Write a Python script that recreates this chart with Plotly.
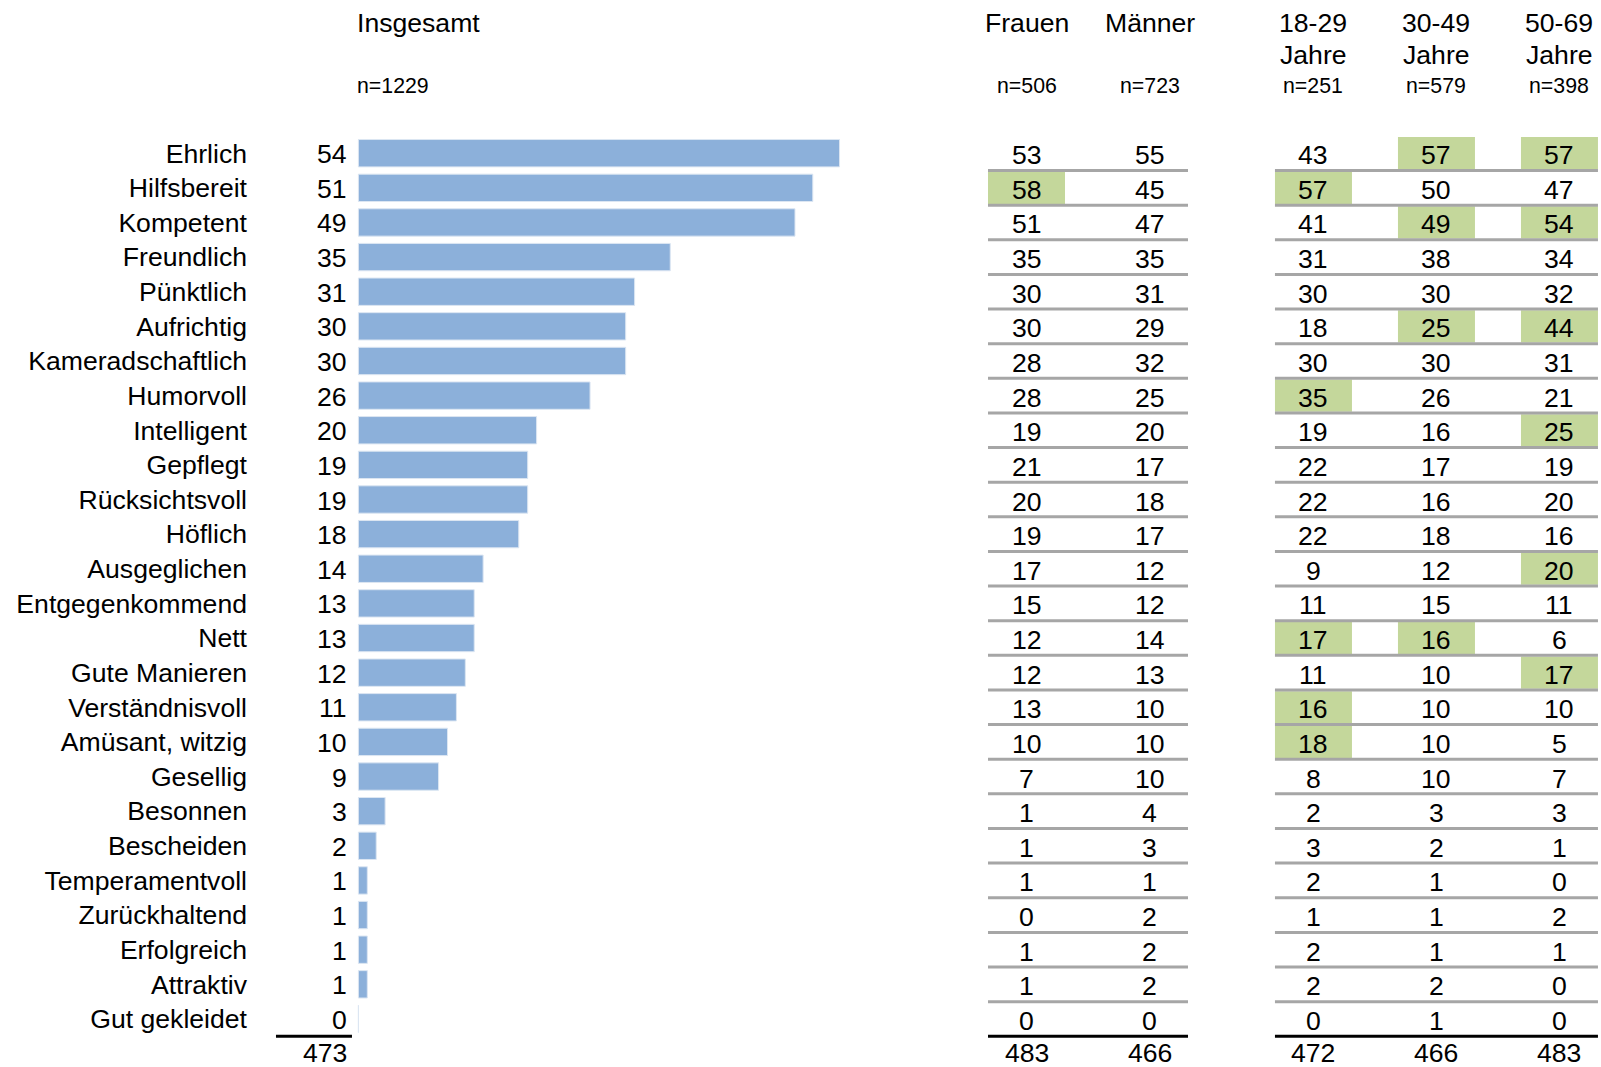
import plotly.graph_objects as go

# ---------------- data ----------------
labels = ["Ehrlich", "Hilfsbereit", "Kompetent", "Freundlich", "Pünktlich", "Aufrichtig",
          "Kameradschaftlich", "Humorvoll", "Intelligent", "Gepflegt", "Rücksichtsvoll",
          "Höflich", "Ausgeglichen", "Entgegenkommend", "Nett", "Gute Manieren",
          "Verständnisvoll", "Amüsant, witzig", "Gesellig", "Besonnen", "Bescheiden",
          "Temperamentvoll", "Zurückhaltend", "Erfolgreich", "Attraktiv", "Gut gekleidet"]
insgesamt = [54, 51, 49, 35, 31, 30, 30, 26, 20, 19, 19, 18, 14, 13, 13, 12, 11, 10, 9, 3, 2, 1, 1, 1, 1, 0]
frauen = [53, 58, 51, 35, 30, 30, 28, 28, 19, 21, 20, 19, 17, 15, 12, 12, 13, 10, 7, 1, 1, 1, 0, 1, 1, 0]
maenner = [55, 45, 47, 35, 31, 29, 32, 25, 20, 17, 18, 17, 12, 12, 14, 13, 10, 10, 10, 4, 3, 1, 2, 2, 2, 0]
age_18_29 = [43, 57, 41, 31, 30, 18, 30, 35, 19, 22, 22, 22, 9, 11, 17, 11, 16, 18, 8, 2, 3, 2, 1, 2, 2, 0]
age_30_49 = [57, 50, 49, 38, 30, 25, 30, 26, 16, 17, 16, 18, 12, 15, 16, 10, 10, 10, 10, 3, 2, 1, 1, 1, 2, 1]
age_50_69 = [57, 47, 54, 34, 32, 44, 31, 21, 25, 19, 20, 16, 20, 11, 6, 17, 10, 5, 7, 3, 1, 0, 2, 1, 0, 0]

# highlighted (significantly higher) cells per column
hl_frauen = [0, 1] + [0] * 24
hl_maenner = [0] * 26
hl_18_29 = [0, 1, 0, 0, 0, 0, 0, 1, 0, 0, 0, 0, 0, 0, 1, 0, 1, 1, 0, 0, 0, 0, 0, 0, 0, 0]
hl_30_49 = [1, 0, 1, 0, 0, 1, 0, 0, 0, 0, 0, 0, 0, 0, 1, 0, 0, 0, 0, 0, 0, 0, 0, 0, 0, 0]
hl_50_69 = [1, 0, 1, 0, 0, 1, 0, 0, 1, 0, 0, 0, 1, 0, 0, 1, 0, 0, 0, 0, 0, 0, 0, 0, 0, 0]

totals = {"Insgesamt": 473, "Frauen": 483, "Männer": 466,
          "18-29": 472, "30-49": 466, "50-69": 483}

col_names = ["Frauen", "Männer", "18-29<br>Jahre", "30-49<br>Jahre", "50-69<br>Jahre"]
col_n = ["n=506", "n=723", "n=251", "n=579", "n=398"]
col_total_keys = ["Frauen", "Männer", "18-29", "30-49", "50-69"]
insg_title = "Insgesamt"
insg_n = "n=1229"

# ---------------- styling / layout ----------------
W, H = 1601, 1067
FONT = "Liberation Sans, Arial, sans-serif"
FS = 26.6
FS_N = 21.3
BAR = "#8CB0DA"
GREEN = "#C4D79B"
GRAY = "#A6A6A6"

n_rows = len(labels)
rows = list(range(n_rows))

# table column positions on x2 (units of one column spacing)
col_pos = [0, 1, 2.333, 3.333, 4.333]
half = 0.313
groups = [(col_pos[0] - half, col_pos[1] + half), (col_pos[2] - half, col_pos[4] + half)]

table_cols = [frauen, maenner, age_18_29, age_30_49, age_50_69]
hl_cols = [hl_frauen, hl_maenner, hl_18_29, hl_30_49, hl_50_69]

fig = go.Figure()

# green highlight cells
gx, gy, gb = [], [], []
for c, hl in enumerate(hl_cols):
    for r, h in enumerate(hl):
        if h:
            gx.append(2 * half)
            gy.append(r)
            gb.append(col_pos[c] - half)
fig.add_trace(go.Bar(orientation="h", x=gx, y=gy, base=gb, width=0.93,
                     marker=dict(color=GREEN, line=dict(width=0)),
                     xaxis="x2", yaxis="y", hoverinfo="skip", showlegend=False))

# main bars
fig.add_trace(go.Bar(orientation="h", x=insgesamt, y=rows, width=0.79,
                     marker=dict(color=BAR, line=dict(color="#DCE6F2", width=1)),
                     xaxis="x", yaxis="y", showlegend=False))

# table separator lines
for (a, b) in groups:
    lx, ly = [], []
    for r in range(n_rows - 1):
        lx += [a, b, None]
        ly += [r + 0.5, r + 0.5, None]
    fig.add_trace(go.Scatter(x=lx, y=ly, mode="lines", line=dict(color=GRAY, width=3),
                             xaxis="x2", yaxis="y", hoverinfo="skip", showlegend=False))
    fig.add_trace(go.Scatter(x=[a, b], y=[n_rows - 0.5, n_rows - 0.5], mode="lines",
                             line=dict(color="black", width=3),
                             xaxis="x2", yaxis="y", hoverinfo="skip", showlegend=False))

# black total line under the Insgesamt values
fig.add_trace(go.Scatter(x=[-9.25, -0.72], y=[n_rows - 0.5, n_rows - 0.5], mode="lines",
                         line=dict(color="black", width=3),
                         xaxis="x", yaxis="y", hoverinfo="skip", showlegend=False))

annotations = []
# table values (data coordinates on the table axis)
for c, vals in enumerate(table_cols):
    for r, v in enumerate(vals + [totals[col_total_keys[c]]]):
        annotations.append(dict(x=col_pos[c], y=r, xref="x2", yref="y", text=str(v),
                                showarrow=False, xanchor="center", yanchor="middle",
                                yshift=(-2 if r < n_rows else 1), borderpad=0,
                                font=dict(family=FONT, size=FS, color="black")))
# Insgesamt values
for r, v in enumerate(insgesamt + [totals["Insgesamt"]]):
    annotations.append(dict(x=0, y=r, xref="x", yref="y", text=str(v), showarrow=False,
                            xanchor="right", yanchor="middle", xshift=-10,
                            yshift=(-1 if r < n_rows else 1), borderpad=0,
                            font=dict(family=FONT, size=FS, color="black")))
# headers
annotations.append(dict(x=0, y=-3.77, xref="x", yref="y", text=insg_title, showarrow=False,
                        xanchor="left", yanchor="middle", xshift=-3,
                        font=dict(family=FONT, size=FS, color="black")))
annotations.append(dict(x=0, y=-1.95, xref="x", yref="y", text=insg_n, showarrow=False,
                        xanchor="left", yanchor="middle", xshift=-3,
                        font=dict(family=FONT, size=FS_N, color="black")))
for c, name in enumerate(col_names):
    parts = name.split("<br>")
    for i, p in enumerate(parts):
        annotations.append(dict(x=col_pos[c], y=-3.77 + 0.94 * i, xref="x2", yref="y", text=p,
                                showarrow=False, xanchor="center", yanchor="middle",
                                font=dict(family=FONT, size=FS, color="black")))
    annotations.append(dict(x=col_pos[c], y=-1.95, xref="x2", yref="y", text=col_n[c],
                            showarrow=False, xanchor="center", yanchor="middle",
                            font=dict(family=FONT, size=FS_N, color="black")))

px_per_unit = 8.91
bar0 = 358.4
x_left, x_right = 250, 900
row0, row_h = 153.2, 34.63
t2_left = 960
t2_unit = 123.0
t2_zero = 1026.5

fig.update_layout(
    width=W, height=H,
    margin=dict(l=0, r=0, t=0, b=0),
    paper_bgcolor="white", plot_bgcolor="white",
    barmode="overlay",
    font=dict(family=FONT, size=FS, color="black"),
    xaxis=dict(domain=[x_left / W, x_right / W],
               range=[(x_left - bar0) / px_per_unit, (x_right - bar0) / px_per_unit],
               showgrid=False, zeroline=False, showticklabels=False, showline=False,
               fixedrange=True),
    xaxis2=dict(domain=[t2_left / W, 1], anchor="y",
                range=[(t2_left - t2_zero) / t2_unit, (W - t2_zero) / t2_unit],
                showgrid=False, zeroline=False, showticklabels=False, showline=False,
                fixedrange=True),
    yaxis=dict(range=[(H - row0) / row_h, -row0 / row_h],
               tickvals=rows, ticktext=labels, ticks="", ticklabelstandoff=2,
               tickfont=dict(family=FONT, size=FS, color="black"),
               showgrid=False, zeroline=False, showline=False, fixedrange=True),
    annotations=annotations,
)

fig.write_html("out.html", config={"displayModeBar": False},
               post_script="document.body.style.margin='0';document.body.style.overflow='hidden';")
